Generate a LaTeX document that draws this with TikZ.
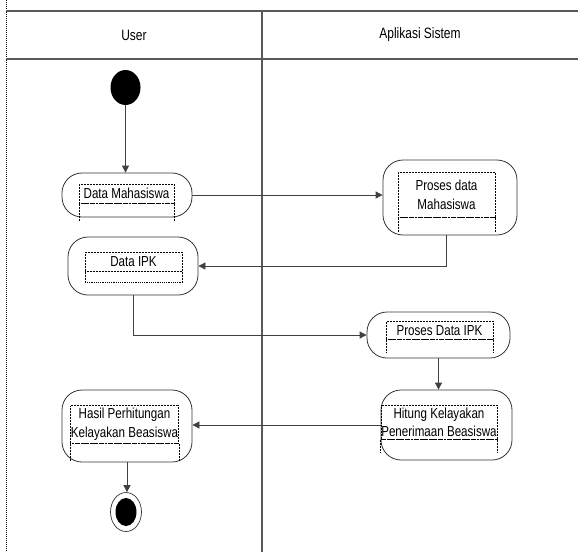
\documentclass[tikz,border=0pt]{standalone}
\usepackage{fontspec}
\setmainfont{Liberation Sans}[FakeStretch=0.8]
\usetikzlibrary{positioning,shapes.geometric,arrows.meta}

\begin{document}
\begin{tikzpicture}[
    x=1pt, y=-1pt,
    font=\fontsize{14.5}{18.5}\selectfont,
    lane/.style={draw=black!65, line width=1.6pt},
    act/.style={draw=black!80, line width=0.8pt, rounded corners=20pt},
    lbl/.style={draw, densely dotted, line width=0.5pt, align=center, anchor=north, inner sep=0.5pt},
    sep/.style={densely dotted, line width=1.2pt},
    ext/.style={densely dotted, line width=0.5pt},
    arr/.style={-{Triangle[length=7pt,width=7pt]}, draw=black!75, line width=0.8pt}
  ]
  \useasboundingbox (0,0) rectangle (578,552);
  % swimlanes
  \draw[densely dotted, line width=1pt] (6,0) -- (6,552);
  \draw[lane] (6,11) -- (578,11);
  \draw[lane] (6,59) -- (578,59);
  \draw[lane] (262,11) -- (262,552);
  \node[font=\fontsize{15}{18}\selectfont] (user) at (134,35) {User};
  \node[font=\fontsize{15}{18}\selectfont] (app) at (420,35) {Aplikasi Sistem};
  % start and end
  \node[ellipse, fill=black, minimum width=30pt, minimum height=35pt, inner sep=0pt] (start) at (125.5,87.5) {};
  \node[ellipse, draw=black!80, line width=0.7pt, minimum width=31pt, minimum height=39pt, inner sep=0pt] (end) at (126,512) {};
  \node[ellipse, fill=black, minimum width=21pt, minimum height=28pt, inner sep=0pt] (endin) at (126,512) {};
  % activities
  \node[act, minimum width=130pt, minimum height=44pt] (mhs) at (127,195) {};
  \node[lbl, minimum width=95pt, minimum height=19pt] (mhslbl) at (126.5,184) {Data Mahasiswa};
  \node[act, minimum width=134pt, minimum height=75pt] (pmhs) at (450,197.5) {};
  \node[lbl, minimum width=97pt, minimum height=45pt] (pmhslbl) at (446.5,172) {Proses data\\Mahasiswa};
  \node[act, minimum width=130pt, minimum height=58pt] (ipk) at (133,266) {};
  \node[lbl, minimum width=97pt, minimum height=19pt] (ipklbl) at (133.5,252) {Data IPK};
  \node[act, minimum width=143pt, minimum height=46pt] (pipk) at (438.5,335) {};
  \node[lbl, minimum width=107pt, minimum height=18pt] (pipklbl) at (439.5,321) {Proses Data IPK};
  \node[act, minimum width=131pt, minimum height=70pt] (hit) at (446.5,425) {};
  \node[lbl, minimum width=112pt, minimum height=34pt] (hitlbl) at (439,405) {Hitung Kelayakan\\Penerimaan Beasiswa};
  \node[act, minimum width=130pt, minimum height=72pt] (hsl) at (127,426) {};
  \node[lbl, minimum width=97pt, minimum height=38pt] (hsllbl) at (124.5,405) {Hasil Perhitungan\\Kelayakan Beasiswa};
  % label compartments
  \draw[sep] (mhslbl.south west) -- (mhslbl.south east);
  \draw[ext] (mhslbl.south west) -- ++(0,18) (mhslbl.south east) -- ++(0,18);
  \draw[sep] (pmhslbl.south west) -- (pmhslbl.south east);
  \draw[ext] (pmhslbl.south west) -- ++(0,15) (pmhslbl.south east) -- ++(0,15);
  \draw[ext] (ipklbl.south west) -- ++(0,11) (ipklbl.south east) -- ++(0,11);
  \draw[sep] ([yshift=-11pt]ipklbl.south west) -- ([yshift=-11pt]ipklbl.south east);
  \draw[sep] (pipklbl.south west) -- (pipklbl.south east);
  \draw[ext] (pipklbl.south west) -- ++(0,13) (pipklbl.south east) -- ++(0,13);
  \draw[sep] (hitlbl.south west) -- (hitlbl.south east);
  \draw[ext] (hitlbl.south west) -- ++(0,13) (hitlbl.south east) -- ++(0,13);
  \draw[sep] (hsllbl.south west) -- (hsllbl.south east);
  \draw[ext] (hsllbl.south west) -- ++(0,17) (hsllbl.south east) -- ++(0,17);
  % flows
  \draw[arr] (start) -- (start |- mhs.north);
  \draw[arr] (mhs.east) -- (mhs.east -| pmhs.west);
  \draw[arr] ([xshift=-4pt]pmhs.south) |- (ipk.east);
  \draw[arr] (ipk.south) |- (pipk.west);
  \draw[arr] (pipk.south) -- (pipk.south |- hit.north);
  \draw[arr] (hit.west) -- (hit.west -| hsl.east);
  \draw[arr] (hsl.south) -- (hsl.south |- end.north);
\end{tikzpicture}
\end{document}
